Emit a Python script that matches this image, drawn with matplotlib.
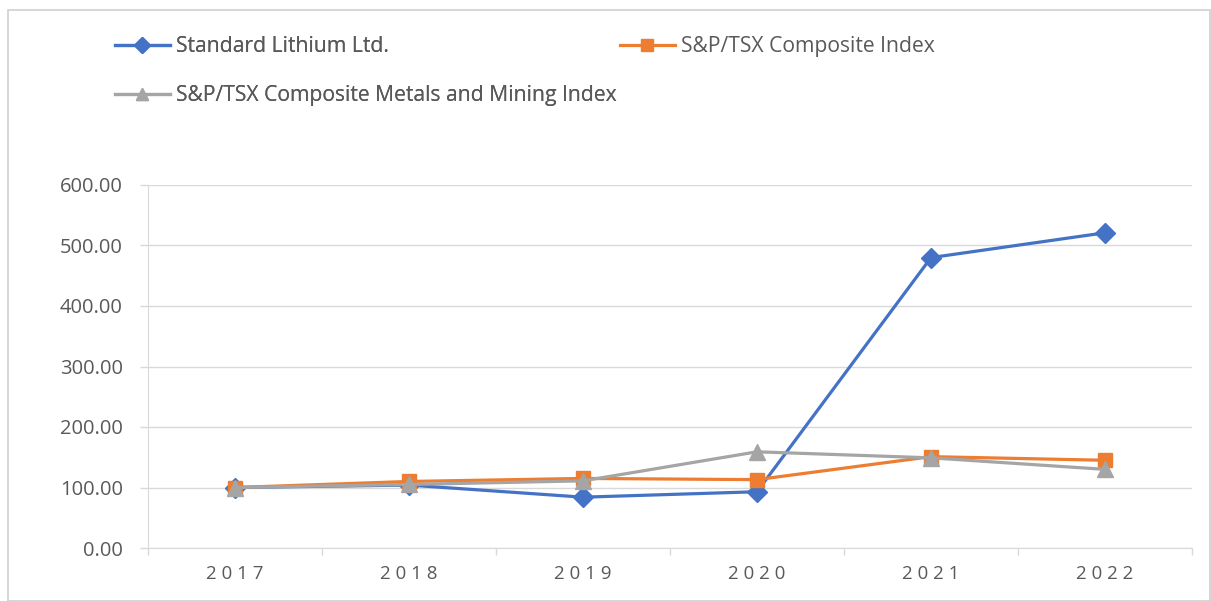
import matplotlib
matplotlib.use("Agg")
import matplotlib.pyplot as plt
from matplotlib.patches import Rectangle

years = ["2017", "2018", "2019", "2020", "2021", "2022"]
standard_lithium = [100, 104, 84, 93, 480, 521]
tsx_composite = [100, 110, 115, 113, 151, 145]
tsx_metals = [100, 105, 111, 159, 149, 130]
yticks = [0, 100, 200, 300, 400, 500, 600]

plt.rcParams['font.family'] = ['Open Sans', 'DejaVu Sans']
TXT = '#595959'
GRID = '#d9d9d9'
FS = 14.5

fig = plt.figure(figsize=(12.11, 6.01), dpi=100)
fig.patches.append(Rectangle((8/1211, 0), 1 - 9/1211, 1 - 10/601, transform=fig.transFigure,
                             fill=False, edgecolor='#d0d0d0', linewidth=1.2))
ax = fig.add_axes([148/1211, 1 - 548/601, (1192 - 148)/1211, (548 - 185)/601])

x = list(range(len(years)))
l1, = ax.plot(x, standard_lithium, color='#4472C4', lw=2.3, marker='D', ms=10,
              label='Standard Lithium Ltd.', zorder=3)
l2, = ax.plot(x, tsx_composite, color='#ED7D31', lw=2.3, marker='s', ms=10,
              label='S&P/TSX Composite Index', zorder=4)
l3, = ax.plot(x, tsx_metals, color='#A5A5A5', lw=2.3, marker='^', ms=11,
              label='S&P/TSX Composite Metals and Mining Index', zorder=5)

ax.set_xlim(-0.5, len(years) - 0.5)
ax.set_ylim(0, 600)
ax.set_yticks(yticks)
ax.set_yticklabels([f"{v:.2f}" for v in yticks], color=TXT, fontsize=FS)
ax.yaxis.grid(True, color=GRID, lw=1)
ax.set_axisbelow(True)

ax.set_xticks(x)
ax.set_xticklabels([" ".join(y) for y in years], color=TXT, fontsize=13.5)
ax.set_xticks([i - 0.5 for i in range(len(years) + 1)], minor=True)
ax.tick_params(axis='x', which='major', length=0, pad=12)
ax.tick_params(axis='x', which='minor', length=5, color=GRID, width=1)
ax.tick_params(axis='y', length=6, color=GRID, width=1, pad=12)

for s in ['top', 'right']:
    ax.spines[s].set_visible(False)
ax.spines['left'].set_color(GRID)
ax.spines['bottom'].set_color(GRID)

common = dict(loc='upper left', frameon=False, fontsize=15.2, handlelength=2.6,
              handletextpad=0.3, labelcolor=TXT, borderaxespad=0, borderpad=0, markerscale=0.8)
leg1 = fig.legend(handles=[l1, l3], bbox_to_anchor=(115/1211, 1 - 36/601),
                  labelspacing=1.35, **common)
leg2 = fig.legend(handles=[l2], bbox_to_anchor=(620/1211, 1 - 36/601), **common)
fig.add_artist(leg1)

fig.savefig('out.png', dpi=100)
